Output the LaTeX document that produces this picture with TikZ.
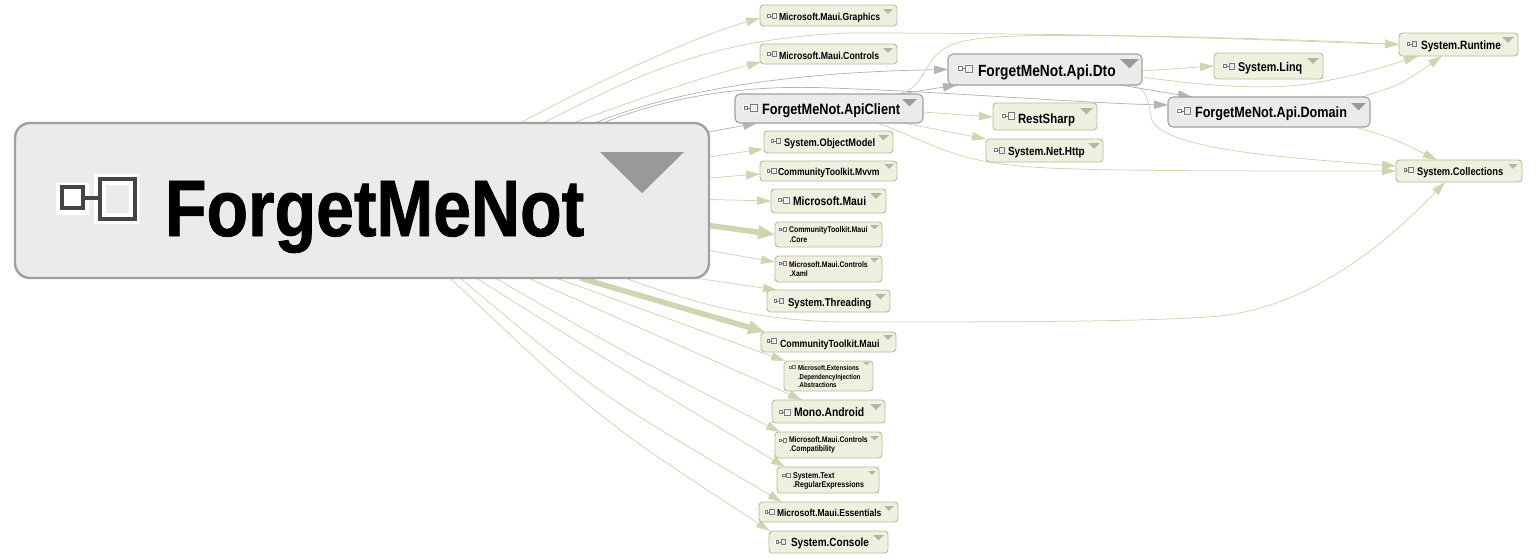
\documentclass[tikz,border=0pt]{standalone}
\usepackage{fontspec}
\setmainfont{Liberation Sans}[FakeStretch=0.85]
\usetikzlibrary{arrows.meta,backgrounds}
\definecolor{edgeC}{HTML}{D2D3B0}
\definecolor{edgeG}{HTML}{B4B4B4}
\definecolor{extF}{HTML}{F0F0E0}
\definecolor{extD}{HTML}{B8B99C}
\definecolor{extT}{HTML}{B5B5A0}
\definecolor{prjF}{HTML}{EBEBEB}
\definecolor{prjD}{HTML}{A0A0A0}
\definecolor{prjT}{HTML}{999999}
\definecolor{iconD}{HTML}{444444}
\definecolor{iconL}{HTML}{777777}
\tikzset{
  extbox/.style={draw=extD,fill=extF,line width=0.9pt,rounded corners=3.5pt,inner sep=0pt,outer sep=0pt},
  prjbox/.style={draw=prjD,fill=prjF,line width=1.1pt,rounded corners=5pt,inner sep=0pt,outer sep=0pt},
  mainbox/.style={draw=prjD,fill=prjF,line width=2.4pt,rounded corners=15pt,inner sep=0pt,outer sep=0pt},
  edge/.style={draw=edgeC,line width=0.75pt,-{Triangle[length=14pt,width=8.5pt,fill=edgeC]}},
  gedge/.style={draw=edgeG,line width=0.75pt,-{Triangle[length=14pt,width=8.5pt,fill=edgeG]}},
  fatedge/.style={draw=edgeC,line width=5.5pt,-{Triangle[length=17pt,width=13pt,fill=edgeC]}},
  lbl/.style={inner sep=0pt,outer sep=0pt,text=black,align=left}
}
% name, x1, y1, x2, y2, style, triangle right, triangle top, triangle width
\newcommand{\pkg}[9]{%
  \pgfmathsetmacro{\cxx}{(#2+#4)/2}\pgfmathsetmacro{\cyy}{(#3+#5)/2}%
  \pgfmathsetmacro{\ww}{#4-#2}\pgfmathsetmacro{\hh}{#5-#3}%
  \node[#6,minimum width=\ww pt,minimum height=\hh pt] (#1) at (\cxx,\cyy) {};
  \pgfmathsetmacro{\tl}{#7-#9}\pgfmathsetmacro{\tm}{#7-#9/2}\pgfmathsetmacro{\tb}{#8+0.49*#9}%
  \fill[tri#6] (\tl,#8) -- (#7,#8) -- (\tm,\tb) -- cycle;
}
\tikzset{triextbox/.style={fill=extT},triprjbox/.style={fill=prjT},trimainbox/.style={fill=prjT}}
% left x, centre y, scale
\newcommand{\pkgicon}[3]{%
  \ifdim#3pt<0.5pt\colorlet{iconC}{iconL}\else\colorlet{iconC}{iconD}\fi
  \begin{scope}[shift={(#1,#2)},x=#3pt,y=-#3pt]
    \fill[white] (0,-16) rectangle (33,16) (38,-25) rectangle (83,25);
    \fill[prjF] (50,-14) rectangle (73,14);
    \draw[iconC,line width=#3*3.6pt] (6,-12) rectangle (27,9);
    \draw[iconC,line width=#3*3.6pt] (44,-20) rectangle (79,20);
    \draw[iconC,line width=#3*3.6pt] (27,-1) -- (44,-1);
  \end{scope}}
% name, text x, baseline y, size, text, icon x, icon y, icon scale
\newcommand{\lab}[8]{%
  \node[lbl,anchor=base west,font=\bfseries\fontsize{#4}{#4}\selectfont] (#1-t) at (#2,#3) {#5};
  \pkgicon{#6}{#7}{#8}}
% two or three line label: anchor west at centre y
\newcommand{\labm}[8]{%
  \node[lbl,anchor=west,font=\bfseries\fontsize{#4}{9.5}\selectfont] (#1-t) at (#2,#3) {#5};
  \pkgicon{#6}{#7}{#8}}
\begin{document}
\begin{tikzpicture}[x=1pt,y=-1pt]
\useasboundingbox (0,0) rectangle (1536,558);

\pkg{main}{15}{123}{709}{278}{mainbox}{684}{152}{84}
\pkg{client}{735}{94}{923}{123}{prjbox}{917}{99}{15}
\pkg{dto}{948}{54}{1142}{85}{prjbox}{1139}{59}{19}
\pkg{domain}{1168}{97}{1370}{127}{prjbox}{1366}{103}{15}
\pkg{graphics}{760}{5}{897}{26}{extbox}{893}{9}{10}
\pkg{controls}{760}{44}{897}{64}{extbox}{893}{48}{10}
\pkg{rest}{993}{103}{1097}{130}{extbox}{1093}{108}{13}
\pkg{http}{986}{139}{1103}{162}{extbox}{1100}{143}{12}
\pkg{objmodel}{764}{131}{893}{153}{extbox}{889}{135}{11}
\pkg{mvvm}{760}{161}{897}{181}{extbox}{894}{164}{10}
\pkg{maui}{771}{189}{886}{213}{extbox}{882}{193}{12}
\pkg{core}{775}{222}{882}{247}{extbox}{879}{225}{9}
\pkg{xaml}{775}{256}{882}{282}{extbox}{879}{258}{9}
\pkg{threading}{767}{290}{890}{312}{extbox}{886}{294}{11}
\pkg{toolkit}{761}{332}{896}{352}{extbox}{893}{335}{10}
\pkg{di}{784}{361}{873}{391}{extbox}{870}{362}{7}
\pkg{mono}{772}{400}{885}{423}{extbox}{882}{404}{12}
\pkg{compat}{775}{432}{882}{458}{extbox}{879}{436}{9}
\pkg{regex}{777}{467}{879}{493}{extbox}{876}{471}{8}
\pkg{essentials}{759}{502}{898}{522}{extbox}{894}{506}{10}
\pkg{console}{769}{531}{888}{553}{extbox}{884}{535}{11}
\pkg{runtime}{1399}{33}{1518}{56}{extbox}{1514}{37}{12}
\pkg{linq}{1214}{53}{1323}{79}{extbox}{1319}{58}{12}
\pkg{collections}{1396}{160}{1522}{182}{extbox}{1518}{164}{10}

\lab{main}{165}{236}{80}{\addfontfeatures{FakeBold=1}ForgetMeNot}{56}{199}{1}
\lab{client}{762}{114.5}{15}{ForgetMeNot.ApiClient}{743}{108}{.177}
\lab{dto}{978}{76.5}{16.2}{ForgetMeNot.Api.Dto}{957}{69}{.19}
\lab{domain}{1195}{117.5}{14.9}{ForgetMeNot.Api.Domain}{1176}{111}{.18}
\lab{graphics}{779}{20.5}{10.2}{Microsoft.Maui.Graphics}{767}{16}{.115}
\lab{controls}{779}{59}{10.3}{Microsoft.Maui.Controls}{767}{54}{.115}
\lab{rest}{1018}{123}{13.4}{RestSharp}{1001}{116}{.165}
\lab{http}{1008}{155}{11.7}{System.Net.Http}{993}{150}{.145}
\lab{objmodel}{784}{146}{10.9}{System.ObjectModel}{770}{141}{.135}
\lab{mvvm}{778}{175.5}{10.1}{CommunityToolkit.Mvvm}{766}{171}{.125}
\lab{maui}{793}{205}{12.2}{Microsoft.Maui}{777}{200}{.15}
\labm{core}{789}{234.5}{8.2}{CommunityToolkit.Maui\\[0pt]\hspace*{0.5pt}.Core}{779}{229}{.095}
\labm{xaml}{789}{269}{8.1}{Microsoft.Maui.Controls\\[0pt]\hspace*{0.5pt}.Xaml}{779}{263}{.095}
\lab{threading}{788}{306}{11.3}{System.Threading}{773}{301}{.135}
\lab{toolkit}{780}{347}{10.4}{CommunityToolkit.Maui}{766}{341}{.125}
\labm{di}{798}{376.5}{7.1}{Microsoft.Extensions\\[-1pt].DependencyInjection\\[-1pt].Abstractions}{789}{367}{.08}
\lab{mono}{794}{416.5}{12.2}{Mono.Android}{778}{412}{.15}
\labm{compat}{789}{445}{8.1}{Microsoft.Maui.Controls\\[0pt]\hspace*{0.5pt}.Compatibility}{779}{440}{.095}
\labm{regex}{793}{481}{8.4}{System.Text\\[0pt].RegularExpressions}{782}{475}{.1}
\lab{essentials}{777}{516}{10}{Microsoft.Maui.Essentials}{764}{512}{.125}
\lab{console}{791}{546}{11.8}{System.Console}{775}{542}{.135}
\lab{runtime}{1421}{49.5}{12}{System.Runtime}{1406}{44}{.13}
\lab{linq}{1238}{71.5}{12.7}{System.Linq}{1222}{66}{.16}
\lab{collections}{1417}{175}{11}{System.Collections}{1403}{170}{.125}

\begin{pgfonlayer}{background}
% from the large node, over the top
\draw[edge] ([xshift=158]main.north) .. controls (610,75) and (700,35) .. ([shift={(0,13)}]graphics.north west);
\draw[edge] ([xshift=181]main.north) .. controls (620,85) and (700,38) .. (850,33) .. controls (1050,33) and (1280,38) .. (runtime.west);
\draw[edge] ([xshift=211]main.north) .. controls (640,98) and (710,75) .. ([shift={(1,18)}]controls.north west);
\draw[gedge] ([xshift=233]main.north) .. controls (680,88) and (800,72) .. (dto.west);
\draw[gedge] ([xshift=241]main.north) .. controls (680,92) and (760,85) .. (830,88) .. controls (950,92) and (1080,103) .. ([shift={(0,8)}]domain.north west);
% from the large node, right side
\draw[gedge] ([yshift=68.5]main.east) -- ([xshift=22]client.south west);
\draw[edge] ([yshift=43.5]main.east) -- ([shift={(-1,-4)}]objmodel.south west);
\draw[edge] ([yshift=22.5]main.east) -- ([shift={(0,13)}]mvvm.north west);
\draw[edge] ([yshift=1]main.east) -- (maui.west);
\draw[fatedge] ([yshift=-25]main.east) -- (core.west);
\draw[edge] ([yshift=-50]main.east) -- ([shift={(0,6)}]xaml.north west);
% from the large node, bottom
\draw[edge] ([xshift=333]main.south) -- ([xshift=10]threading.north west);
\draw[edge] ([xshift=263]main.south) .. controls (680,298) and (750,322) .. (850,322) .. controls (1000,322) and (1150,322) .. (1220,316) .. controls (1310,306) and (1385,245) .. ([xshift=49]collections.south west);
\draw[fatedge] ([xshift=218]main.south) -- ([xshift=4]toolkit.north west);
\draw[edge] ([xshift=194]main.south) -- ([xshift=1]di.north west);
\draw[edge] ([xshift=166]main.south) -- ([xshift=30]mono.north west);
\draw[edge] ([xshift=133]main.south) .. controls (620,350) .. ([xshift=5]compat.north west);
\draw[edge] ([xshift=114]main.south) .. controls (610,362) .. ([xshift=8]regex.north west);
\draw[edge] ([xshift=98]main.south) .. controls (600,395) .. ([xshift=23]essentials.north west);
\draw[edge] ([xshift=88]main.south) .. controls (600,420) .. ([xshift=1]console.north west);
% from ForgetMeNot.ApiClient
\draw[gedge] ([xshift=71]client.north) -- ([xshift=9]dto.south west);
\draw[edge] ([xshift=68]client.north) .. controls (925,90) and (922,62) .. (945,48) .. controls (965,37) and (1000,34) .. (1120,36) .. controls (1230,38) and (1320,42) .. (runtime.west);
\draw[edge] ([yshift=-3.5]client.east) -- ([yshift=-0.5]rest.west);
\draw[edge] ([xshift=74]client.south) -- (http.north west);
\draw[edge] ([xshift=48]client.south) .. controls (925,140) and (945,155) .. (990,162) .. controls (1030,170) and (1100,171) .. (collections.west);
% from ForgetMeNot.Api.Dto
\draw[edge] ([yshift=-1.5]dto.east) -- (linq.west);
\draw[edge] ([yshift=-7.5]dto.east) .. controls (1220,88) and (1280,90) .. (1320,82) .. controls (1360,75) and (1390,65) .. ([xshift=19]runtime.south west);
\draw[gedge] ([xshift=75]dto.south) -- ([xshift=24]domain.north west);
\draw[edge] ([xshift=85]dto.south) .. controls (1150,88) and (1148,105) .. (1152,120) .. controls (1165,150) and (1290,158) .. ([shift={(0,6)}]collections.north west);
% from ForgetMeNot.Api.Domain
\draw[edge] ([xshift=93]domain.north) .. controls (1400,85) .. ([xshift=43]runtime.south west);
\draw[edge] ([xshift=86]domain.south) .. controls (1395,139) .. ([xshift=41]collections.north west);
\end{pgfonlayer}
\end{tikzpicture}
\end{document}
